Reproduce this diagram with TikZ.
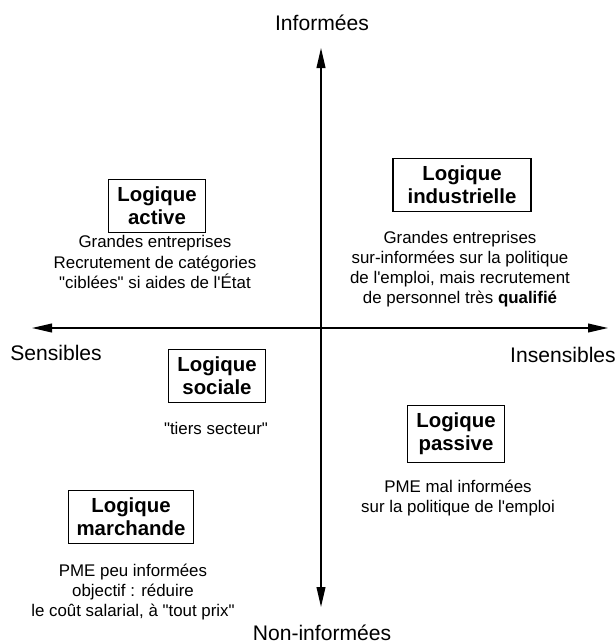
\documentclass[tikz,border=0pt]{standalone}
\usepackage{fontspec}
\setmainfont{Liberation Sans}
\usetikzlibrary{arrows.meta}

\tikzset{
  axe/.style={line width=1pt, {Triangle[length=0.5cm,width=0.22cm]}-{Triangle[length=0.5cm,width=0.22cm]}},
  logique/.style={draw, line width=0.8pt, align=center, inner xsep=6pt, inner ysep=5.5pt,
    font=\fontsize{14.5}{16.6}\selectfont\bfseries},
  texte/.style={align=center, inner sep=0pt, font=\fontsize{12}{14.3}\selectfont},
  pole/.style={inner sep=0pt, font=\fontsize{15}{18}\selectfont}
}

\begin{document}
\begin{tikzpicture}[x=0.025cm, y=-0.025cm]
\useasboundingbox (0,0) rectangle (616,644);

% axes
\coordinate (haut) at (321,48);
\coordinate (bas) at (321,607);
\coordinate (gauche) at (32,328);
\coordinate (droite) at (608,328);
\draw[axe] (bas) -- (haut);
\draw[axe] (gauche) -- (droite);

\node[pole] (informees) at (322,23) {Informées};
\node[pole] (noninformees) at (322,633) {Non-informées};
\node[pole] (sensibles) at (56,353) {Sensibles};
\node[pole] (insensibles) at (563,355) {Insensibles};

% les cinq logiques
\node[logique] (active) at (157,206) {Logique\\active};
\node[texte] (active-txt) at (155,262) {Grandes entreprises\\Recrutement de catégories\\\textquotedbl ciblées\textquotedbl{} si aides de l\textquotesingle État};

\node[logique, minimum width=3.45cm] (industrielle) at (462,185) {Logique\\industrielle};
\node[texte] (industrielle-txt) at (460,269) {Grandes entreprises\\sur-informées sur la politique\\de l\textquotesingle emploi, mais recrutement\\de personnel très \textbf{qualifié}};

\node[logique] (sociale) at (217,376) {Logique\\sociale};
\node[texte] (sociale-txt) at (216,428) {\textquotedbl tiers secteur\textquotedbl};

\node[logique] (passive) at (456,434) {Logique\\passive};
\node[texte] (passive-txt) at (458,498) {PME mal informées\\sur la politique de l\textquotesingle emploi};

\node[logique] (marchande) at (131,517) {Logique\\marchande};
\node[texte] (marchande-txt) at (133,592) {PME peu informées\\objectif : réduire\\le coût salarial, à \textquotedbl tout prix\textquotedbl};
\end{tikzpicture}
\end{document}
